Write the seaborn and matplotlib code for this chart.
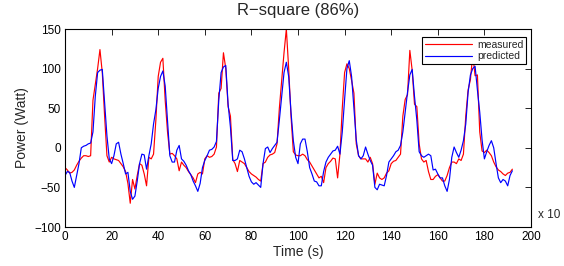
import numpy as np
import pandas as pd
import matplotlib
matplotlib.use("Agg")
import matplotlib.pyplot as plt
import seaborn as sns

time_s = list(range(0, 193))

measured = [
    -25, -28, -32, -31, -28, -22, -17, -13, -10, -10,
    -11, -10, 60, 80, 100, 124, 95, 40, -10, -18,
    -12, -14, -15, -16, -20, -24, -30, -45, -70, -40,
    -52, -35, -20, -22, -33, -48, -12, -14, -8, 35,
    90, 108, 113, 60, 20, -8, -7, -10, -14, -29,
    -18, -22, -25, -30, -34, -38, -44, -33, -31, -33,
    -14, -10, -12, -11, -8, 1, 69, 75, 120, 100,
    52, 40, -15, -20, -30, -16, -18, -20, -25, -30,
    -33, -35, -37, -40, -42, -20, -18, -12, -9, -8,
    -6, 5, 50, 85, 120, 150, 100, 40, -5, -9,
    -10, -10, -8, -10, -15, -18, -23, -28, -33, -38,
    -36, -44, -25, -20, -17, -13, -14, -38, -8, 50,
    95, 106, 100, 85, 69, 5, -10, -14, -14, -14,
    -18, -12, -20, -46, -32, -38, -40, -38, -32, -29,
    -20, -17, -16, -12, -8, 40, 61, 67, 123, 98,
    55, 52, 5, -14, -18, -16, -30, -40, -40, -36,
    -34, -38, -42, -42, -35, -25, -18, -18, -20, -14,
    -16, -8, 40, 73, 86, 118, 91, 92, 20, -4,
    -6, -3, -6, -10, -18, -24, -28, -30, -33, -35,
    -32, -31, -27,
]

predicted = [
    -35, -30, -31, -42, -50, -35, -20, 0, 2, 3,
    5, 6, 20, 65, 95, 98, 99, 56, 15, -14,
    -20, -10, 5, 7, -8, -20, -33, -31, -55, -65,
    -61, -42, -20, -8, -9, -27, -10, 5, 30, 48,
    75, 90, 97, 78, 35, -10, -18, -18, -3, 3,
    -14, -17, -22, -29, -34, -42, -48, -55, -45, -25,
    -16, -10, -3, -2, 1, 8, 60, 95, 102, 104,
    55, 26, -16, -16, -14, -3, -5, -14, -25, -36,
    -43, -46, -44, -47, -50, -20, -1, 1, -6, -1,
    3, 7, 35, 65, 95, 108, 90, 45, 9, -12,
    -20, 5, 11, 11, -5, -25, -33, -42, -43, -48,
    -48, -30, -18, -12, -8, -4, -3, 2, -8, 20,
    61, 100, 110, 90, 50, 10, -10, -14, -10, 1,
    -8, -16, -22, -50, -53, -46, -47, -48, -35, -18,
    -14, -10, -5, -3, 3, 20, 45, 70, 92, 99,
    65, 35, -5, -10, -12, -10, -8, -10, -28, -27,
    -33, -38, -38, -48, -55, -40, -12, 1, -6, -12,
    -3, 9, 30, 70, 92, 100, 103, 73, 45, 10,
    -14, -5, 3, 9, 0, -20, -38, -44, -40, -42,
    -48, -35, -29,
]

series_names = ["measured", "predicted"]
series_colors = ["#ff0000", "#0000ff"]
x_ticks = list(range(0, 201, 20))
y_ticks = list(range(-100, 151, 50))

df = pd.DataFrame({
    "Time (s)": time_s * 2,
    "Power": measured + predicted,
    "series": [series_names[0]] * len(measured) + [series_names[1]] * len(predicted),
})

sns.set_style("white")
plt.rcParams["font.family"] = ["Liberation Sans", "DejaVu Sans"]

fig = plt.figure(figsize=(5.64, 2.66), dpi=100)
ax = fig.add_axes([65 / 564, 1 - 227 / 266, (531 - 65) / 564, (227 - 29) / 266])

sns.lineplot(data=df, x="Time (s)", y="Power", hue="series",
             palette=dict(zip(series_names, series_colors)),
             linewidth=0.85, ax=ax, legend=True)

ax.set_xlim(0, 200)
ax.set_ylim(-100, 150)
ax.set_xticks(x_ticks)
ax.set_yticks(y_ticks)
ax.tick_params(direction="in", top=True, right=True, length=4, width=0.6,
               labelsize=8.5, pad=3, colors="black")
for s in ax.spines.values():
    s.set_visible(True)
    s.set_color("black")
    s.set_linewidth(0.8)

ax.set_xlabel("Time (s)", fontsize=10, labelpad=1)
ax.set_ylabel("Power (Watt)", fontsize=10, labelpad=4)
ax.set_title("R\u2212square (86%)", fontsize=12, pad=10)

fig.text(538 / 564, 1 - 215 / 266, "x 10", fontsize=8.5, ha="left", va="center")

leg = ax.legend(handles=ax.get_lines()[:2], labels=series_names,
                loc="upper right", bbox_to_anchor=(0.994, 0.97),
                fontsize=7.5, frameon=True, fancybox=False, framealpha=1,
                edgecolor="black", handlelength=4.5, borderpad=0.25,
                labelspacing=0.15, handletextpad=0.5, borderaxespad=0.2)
leg.get_frame().set_linewidth(0.8)

fig.savefig("out.png", dpi=100)
